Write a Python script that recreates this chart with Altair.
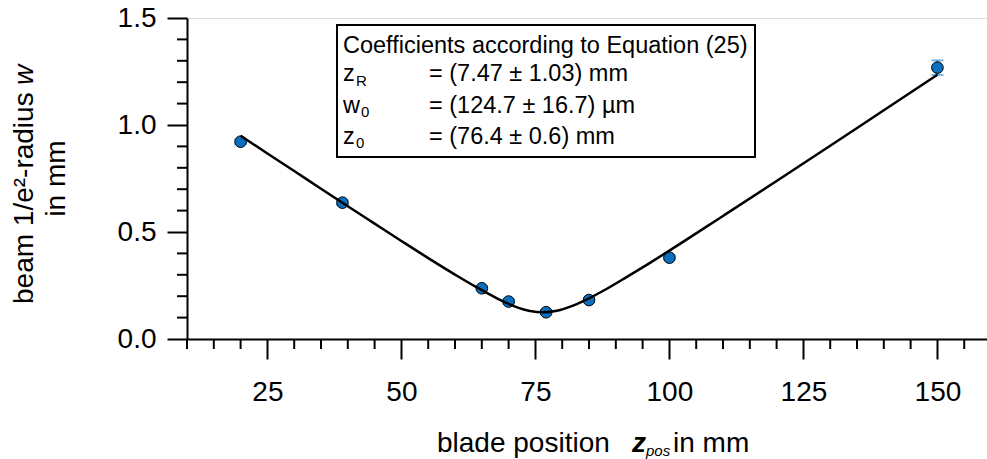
import altair as alt
import pandas as pd

# ---------------- data ----------------
z_pos = [20, 39, 65, 70, 77, 85, 100, 150]
w_meas = [0.922, 0.637, 0.237, 0.175, 0.125, 0.182, 0.380, 1.268]
w_err = [0.010, 0.010, 0.010, 0.010, 0.010, 0.010, 0.010, 0.034]

fit_z = [20, 25, 30, 35, 40, 45, 50, 55, 60, 64, 68, 71, 74, 76.4, 79, 82, 85, 88, 92, 96, 100, 110, 120, 130, 140, 150]
fit_w = [0.950, 0.867, 0.785, 0.702, 0.620, 0.539, 0.458, 0.378, 0.301, 0.242, 0.188, 0.154, 0.131, 0.125,
         0.132, 0.156, 0.190, 0.230, 0.289, 0.350, 0.413, 0.575, 0.738, 0.903, 1.069, 1.235]

x_major = [25, 50, 75, 100, 125, 150]
x_minor = [10, 15, 20, 30, 35, 40, 45, 55, 60, 65, 70, 80, 85, 90, 95, 105, 110, 115, 120, 130, 135, 140, 145, 155]
y_major = [0.0, 0.5, 1.0, 1.5]
y_minor = [0.1, 0.2, 0.3, 0.4, 0.6, 0.7, 0.8, 0.9, 1.1, 1.2, 1.3, 1.4]

legend_title = "Coefficients according to Equation (25)"
legend_names = ["z", "w", "z"]
legend_subs = ["R", "0", "0"]
legend_values = ["= (7.47 ± 1.03) mm", "= (124.7 ± 16.7) µm", "= (76.4 ± 0.6) mm"]

x_title_parts = ["blade position", "z", "pos", "in mm"]
y_title_line1 = "beam 1/e²-radius"
y_title_var = "w"
y_title_line2 = "in mm"

# ---------------- layout ----------------
W, H = 800, 321
PL, PT = 187, 18
FONT = "Liberation Sans"
BLUE = "#0a6fc1"
EBLUE = "#3d95da"

def px(v):
    return v - PL

def py(v):
    return v - PT

pts = pd.DataFrame({"z": z_pos, "w": w_meas,
                    "lo": [a - b for a, b in zip(w_meas, w_err)],
                    "hi": [a + b for a, b in zip(w_meas, w_err)]})
fit = pd.DataFrame({"z": fit_z, "w": fit_w})

xs = alt.Scale(domain=[10, 159.25], nice=False, zero=False)
ys = alt.Scale(domain=[0, 1.5], nice=False, zero=False)

xaxis = alt.Axis(values=x_major, format="d", tickSize=20, labelPadding=19, title=None,
                 grid=False, domainColor="black", domainWidth=2, tickColor="black", tickWidth=2,
                 labelFont=FONT, labelFontSize=28, labelColor="black", labelFlush=False)
yaxis = alt.Axis(values=y_major, format=".1f", tickSize=20, labelPadding=11, title=None,
                 grid=False, domainColor="black", domainWidth=2, tickColor="black", tickWidth=2,
                 labelFont=FONT, labelFontSize=28, labelColor="black", labelFlush=False)

X = alt.X("z:Q", scale=xs, axis=xaxis)
Y = alt.Y("w:Q", scale=ys, axis=yaxis)

# error bars
err_rule = alt.Chart(pts).mark_rule(color=EBLUE, strokeWidth=2).encode(
    x=X, y=alt.Y("lo:Q", scale=ys, axis=yaxis), y2="hi:Q")
err_lo = alt.Chart(pts).mark_tick(color=EBLUE, orient="horizontal", size=12, thickness=2).encode(
    x=X, y=alt.Y("lo:Q", scale=ys, axis=yaxis))
err_hi = alt.Chart(pts).mark_tick(color=EBLUE, orient="horizontal", size=12, thickness=2).encode(
    x=X, y=alt.Y("hi:Q", scale=ys, axis=yaxis))

points = alt.Chart(pts).mark_point(filled=True, shape="circle", size=135, fill=BLUE, stroke="black",
                                   strokeWidth=1, opacity=1).encode(x=X, y=Y)

line = alt.Chart(fit).mark_line(color="black", strokeWidth=2.5, interpolate="monotone").encode(x=X, y=Y)

# minor ticks
xm = alt.Chart(pd.DataFrame({"z": x_minor})).mark_rule(color="black", strokeWidth=2).encode(
    x=X, y=alt.value(H), y2=alt.value(H + 10))
ym = alt.Chart(pd.DataFrame({"w": y_minor})).mark_rule(color="black", strokeWidth=2).encode(
    y=Y, x=alt.value(0), x2=alt.value(-10))

# legend box
box = alt.Chart(pd.DataFrame({"a": [0]})).mark_rect(fillOpacity=0, stroke="black", strokeWidth=2).encode(
    x=alt.value(px(337)), x2=alt.value(px(755)), y=alt.value(py(25)), y2=alt.value(py(157)))

def text_layer(items, size, style="normal", weight="normal", angle=0, align="left"):
    df = pd.DataFrame(items, columns=["t", "px", "py"])
    return alt.Chart(df).mark_text(font=FONT, fontSize=size, fontStyle=style, fontWeight=weight,
                                   align=align, baseline="alphabetic", angle=angle, color="black").encode(
        x=alt.X("px:Q", scale=None), y=alt.Y("py:Q", scale=None), text="t:N")

leg_main = text_layer(
    [(legend_title, px(343), py(53))]
    + [(n, px(343), py(b)) for n, b in zip(legend_names, [81, 112.5, 144])]
    + [(v, px(429), py(b)) for v, b in zip(legend_values, [81, 112.5, 144])],
    23.5)
leg_sub = text_layer(
    [(s, px(x0), py(b)) for s, x0, b in zip(legend_subs, [356, 361, 356], [86, 117, 148])],
    15)

xt_norm = text_layer([(x_title_parts[0], px(437), py(452)), (x_title_parts[3], px(673), py(452))], 28)
xt_z = text_layer([(x_title_parts[1], px(632), py(452))], 28, style="italic", weight="bold")
xt_sub = text_layer([(x_title_parts[2], px(646), py(456))], 15, style="italic")

yt1 = text_layer([(y_title_line1, px(33), py(304))], 28, angle=270)
ytw = text_layer([(y_title_var, px(33), py(85))], 28, style="italic", angle=270)
yt2 = text_layer([(y_title_line2, px(65), py(178.5))], 28, angle=270, align="center")

chart = alt.layer(
    xm, ym, err_rule, err_lo, err_hi, points, line, box,
    leg_main, leg_sub, xt_norm, xt_z, xt_sub, yt1, ytw, yt2
).properties(
    width=W, height=H,
    autosize=alt.AutoSizeParams(type="none"),
    padding={"left": PL, "top": PT, "right": 0, "bottom": 459 - PT - H},
).configure_view(stroke=None).configure(background="white")

chart.save("out.html", embed_options={"renderer": "svg", "actions": False})
